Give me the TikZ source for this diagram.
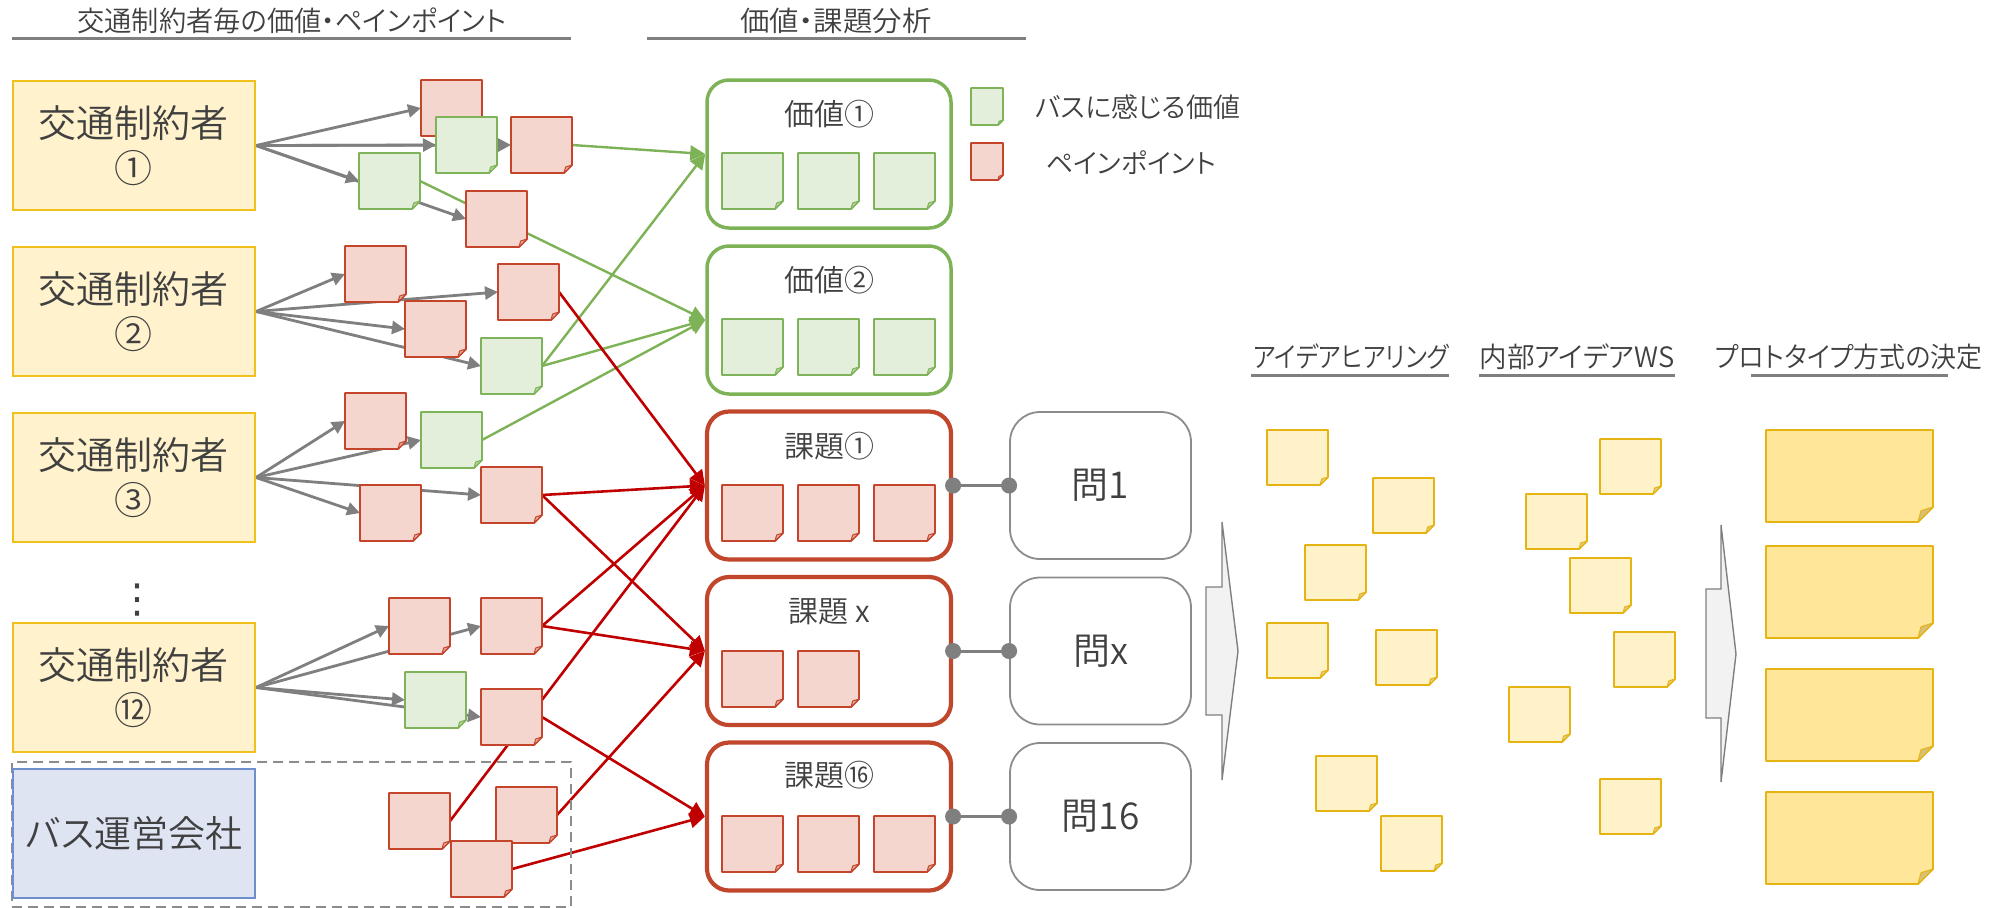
\documentclass[tikz,border=0pt]{standalone}
\usepackage{fontspec}
\setmainfont{Noto Sans CJK JP DemiLight}[RawFeature=+palt]
\newfontfamily\dvs{DejaVu Sans}
\usetikzlibrary{arrows.meta}
\pgfdeclarelayer{bg}
\pgfsetlayers{bg,main}
\definecolor{txt}{HTML}{404040}
\definecolor{rnoteF}{HTML}{F5D6CF}
\definecolor{rnoteD}{HTML}{C4452B}
\definecolor{rnoteK}{HTML}{E3A99B}
\definecolor{gnoteF}{HTML}{E3EFDA}
\definecolor{gnoteD}{HTML}{7EB35A}
\definecolor{gnoteK}{HTML}{B5D49C}
\definecolor{ynoteF}{HTML}{FFF2C8}
\definecolor{ynoteD}{HTML}{E6B412}
\definecolor{ynoteK}{HTML}{E2CD87}
\definecolor{bnoteF}{HTML}{FFE699}
\definecolor{bnoteD}{HTML}{E6B412}
\definecolor{bnoteK}{HTML}{D6C07A}
\definecolor{boxY}{HTML}{FFF2CC}
\definecolor{boxYD}{HTML}{EFC11A}
\definecolor{busF}{HTML}{DEE4F2}
\definecolor{busD}{HTML}{6F8FCC}
\definecolor{vgreen}{HTML}{7DB356}
\definecolor{kred}{HTML}{C0462C}
\definecolor{lred}{HTML}{C00000}
\definecolor{lgray}{HTML}{7F7F7F}
\definecolor{qgray}{HTML}{8C8C8C}
\definecolor{arF}{HTML}{F2F2F2}
% name, colour prefix, x, y (top-left, px), width, height, fold
\newcommand\stick[7]{%
  \node[inner sep=0pt, outer sep=0pt, minimum width=#5, minimum height=#6, anchor=north west] (#1) at (#3,#4) {};
  \filldraw[draw=#2D, fill=#2F, line width=0.9pt, line join=round] (#1.north west) -- (#1.north east) -- ([yshift=#7]#1.south east) -- ([xshift=-#7]#1.south east) -- (#1.south west) -- cycle;
  \filldraw[draw=#2D, fill=#2K, line width=0.5pt, line join=round] ([yshift=#7]#1.south east) -- ([xshift=-#7]#1.south east) -- ([xshift=-0.8*#7, yshift=0.75*#7]#1.south east) -- cycle;
}
\newcommand\fitw[2]{\resizebox{#1}{\height}{#2}}
\tikzset{
  ubox/.style={draw=boxYD, fill=boxY, line width=1pt, minimum width=121pt, minimum height=64.5pt, inner sep=0pt, text=txt, align=center, font=\fontsize{19}{22.5}\selectfont, anchor=north west},
  vbox/.style={draw=vgreen, fill=white, line width=1.75pt, rounded corners=11pt, minimum width=122pt, minimum height=74pt, inner sep=0pt},
  kbox/.style={vbox, draw=kred, line width=2.1pt},
  qbox/.style={draw=qgray, fill=white, line width=0.9pt, rounded corners=15pt, minimum width=90.5pt, minimum height=73.5pt, inner sep=0pt, text=txt, font=\fontsize{18.5}{20}\selectfont},
  ttl/.style={text=txt, inner sep=0pt, font=\fontsize{15}{16}\selectfont},
  hdr/.style={text=txt, inner sep=0pt, font=\fontsize{14}{16}\selectfont},
  legtxt/.style={text=txt, inner sep=0pt, font=\fontsize{13.5}{15}\selectfont},
  uline/.style={draw=lgray, line width=1.5pt},
  garrow/.style={draw=lgray, line width=1.4pt, -{Triangle[length=6.5pt,width=6.5pt]}},
  rline/.style={draw=lred, line width=1.3pt, -{Triangle[length=7.5pt,width=7.5pt]}},
  gline/.style={draw=vgreen, line width=1.2pt, -{Triangle[length=7.5pt,width=7.5pt]}},
  dotc/.style={draw=lgray, line width=1.5pt, {Circle[length=8pt]}-{Circle[length=8pt]}, shorten <=-4pt, shorten >=-4pt},
  bigarrow/.style={draw=lgray, fill=arF, line width=0.7pt, line join=miter},
}
\begin{document}
\begin{tikzpicture}[x=0.5pt, y=-0.5pt]
\useasboundingbox (0,0) rectangle (1997,907);

% headers
\node[hdr] (h1) at (292,21) {\fitw{214.5pt}{交通制約者毎の価値・ペインポイント}};
\draw[uline] (12,38) -- (571,38);
\node[hdr] (h2) at (836,21) {\fitw{95.5pt}{価値・課題分析}};
\draw[uline] (647,38) -- (1026,38);
\node[hdr] (h3) at (1351,357) {\fitw{98pt}{アイデアヒアリング}};
\draw[uline] (1251,375) -- (1449,375);
\node[hdr] (h4) at (1577,357) {\fitw{97.5pt}{内部アイデアWS}};
\draw[uline] (1479,375) -- (1675,375);
\node[hdr] (h5) at (1849,357) {\fitw{133.5pt}{プロトタイプ方式の決定}};
\draw[uline] (1751,375) -- (1948,375);

% stakeholders
\node[ubox] (b1) at (12,80) {交通制約者\\①};
\node[ubox] (b2) at (12,246) {交通制約者\\②};
\node[ubox] (b3) at (12,412) {交通制約者\\③};
\node[text=txt, inner sep=0pt, font=\dvs\fontsize{20}{20}\selectfont] (dots) at (137,600) {⋮};
\node[ubox] (b12) at (12,622) {交通制約者\\⑫};
\node[draw=qgray, line width=1pt, dash pattern=on 5pt off 3pt, minimum width=279.5pt, minimum height=72.5pt, inner sep=0pt, anchor=north west] (grp) at (11,761) {};
\node[ubox, draw=busD, fill=busF, font=\fontsize{18.5}{22.5}\selectfont] (bus) at (12,768) {バス運営会社};

% notes per stakeholder
\stick{A}{rnote}{421}{80}{30.5pt}{28pt}{4pt}
\stick{B}{gnote}{436}{117}{30.5pt}{28pt}{4pt}
\stick{C}{rnote}{511}{117}{30.5pt}{28pt}{4pt}
\stick{D}{gnote}{359}{153}{30.5pt}{28pt}{4pt}
\stick{E}{rnote}{466}{191}{30.5pt}{28pt}{4pt}
\stick{F}{rnote}{345}{246}{30.5pt}{28pt}{4pt}
\stick{G}{rnote}{498}{264}{30.5pt}{28pt}{4pt}
\stick{H}{rnote}{405}{301}{30.5pt}{28pt}{4pt}
\stick{I}{gnote}{481}{338}{30.5pt}{28pt}{4pt}
\stick{J}{rnote}{345}{393}{30.5pt}{28pt}{4pt}
\stick{K}{gnote}{421}{412}{30.5pt}{28pt}{4pt}
\stick{L}{rnote}{360}{485}{30.5pt}{28pt}{4pt}
\stick{M}{rnote}{481}{467}{30.5pt}{28pt}{4pt}
\stick{N}{rnote}{389}{598}{30.5pt}{28pt}{4pt}
\stick{O}{rnote}{481}{598}{30.5pt}{28pt}{4pt}
\stick{P}{gnote}{405}{672}{30.5pt}{28pt}{4pt}
\stick{Q}{rnote}{481}{689}{30.5pt}{28pt}{4pt}
\stick{R}{rnote}{389}{793}{30.5pt}{28pt}{4pt}
\stick{S}{rnote}{496}{787}{30.5pt}{28pt}{4pt}
\stick{T}{rnote}{451}{841}{30.5pt}{28pt}{4pt}

% value / issue boxes
\node[vbox] (v1) at (829,154) {};
\node[ttl] (v1t) at (829,114) {価値①};
\stick{v1a}{gnote}{722}{153}{30.5pt}{28pt}{4pt}
\stick{v1b}{gnote}{798}{153}{30.5pt}{28pt}{4pt}
\stick{v1c}{gnote}{874}{153}{30.5pt}{28pt}{4pt}
\node[vbox] (v2) at (829,320) {};
\node[ttl] (v2t) at (829,280) {価値②};
\stick{v2a}{gnote}{722}{319}{30.5pt}{28pt}{4pt}
\stick{v2b}{gnote}{798}{319}{30.5pt}{28pt}{4pt}
\stick{v2c}{gnote}{874}{319}{30.5pt}{28pt}{4pt}
\node[kbox] (k1) at (829,485.5) {};
\node[ttl] (k1t) at (829,446) {課題①};
\stick{k1a}{rnote}{722}{485}{30.5pt}{28pt}{4pt}
\stick{k1b}{rnote}{798}{485}{30.5pt}{28pt}{4pt}
\stick{k1c}{rnote}{874}{485}{30.5pt}{28pt}{4pt}
\node[kbox] (kx) at (829,651) {};
\node[ttl] (kxt) at (829,612) {課題 x};
\stick{kxa}{rnote}{722}{651}{30.5pt}{28pt}{4pt}
\stick{kxb}{rnote}{798}{651}{30.5pt}{28pt}{4pt}
\node[kbox] (k16) at (829,816.5) {};
\node[ttl] (k16t) at (829,775) {課題⑯};
\stick{k16a}{rnote}{722}{816}{30.5pt}{28pt}{4pt}
\stick{k16b}{rnote}{798}{816}{30.5pt}{28pt}{4pt}
\stick{k16c}{rnote}{874}{816}{30.5pt}{28pt}{4pt}

% legend
\stick{lg}{gnote}{971}{88}{16pt}{18.5pt}{2.5pt}
\node[legtxt] (lgt) at (1138,107) {バスに感じる価値};
\stick{lr}{rnote}{971}{143}{16pt}{18.5pt}{2.5pt}
\node[legtxt] (lrt) at (1131,163) {ペインポイント};

% questions
\node[qbox] (q1) at (1100.5,485.5) {問1};
\node[qbox] (qx) at (1100.5,651) {問x};
\node[qbox] (q16) at (1100.5,816.5) {問16};
\draw[dotc] (k1.east) -- (q1.west);
\draw[dotc] (kx.east) -- (qx.west);
\draw[dotc] (k16.east) -- (q16.west);

% big arrows
\draw[bigarrow] (1222,522) -- (1238,651) -- (1222,780) -- (1222,715) -- (1206,715) -- (1206,587) -- (1222,587) -- cycle;
\draw[bigarrow] (1721,525) -- (1736,654) -- (1721,782) -- (1721,718) -- (1706,718) -- (1706,589) -- (1721,589) -- cycle;

% idea hearing notes
\stick{y1}{ynote}{1267}{430}{30.5pt}{27.5pt}{4pt}
\stick{y2}{ynote}{1373}{478}{30.5pt}{27.5pt}{4pt}
\stick{y3}{ynote}{1305}{545}{30.5pt}{27.5pt}{4pt}
\stick{y4}{ynote}{1267}{623}{30.5pt}{27.5pt}{4pt}
\stick{y5}{ynote}{1376}{630}{30.5pt}{27.5pt}{4pt}
\stick{y6}{ynote}{1316}{756}{30.5pt}{27.5pt}{4pt}
\stick{y7}{ynote}{1381}{816}{30.5pt}{27.5pt}{4pt}
% internal WS notes
\stick{w1}{ynote}{1600}{439}{30.5pt}{27.5pt}{4pt}
\stick{w2}{ynote}{1526}{494}{30.5pt}{27.5pt}{4pt}
\stick{w3}{ynote}{1570}{558}{30.5pt}{27.5pt}{4pt}
\stick{w4}{ynote}{1614}{632}{30.5pt}{27.5pt}{4pt}
\stick{w5}{ynote}{1509}{687}{30.5pt}{27.5pt}{4pt}
\stick{w6}{ynote}{1600}{779}{30.5pt}{27.5pt}{4pt}
% prototype notes
\stick{p1}{bnote}{1766}{430}{83.5pt}{46pt}{7.5pt}
\stick{p2}{bnote}{1766}{546}{83.5pt}{46pt}{7.5pt}
\stick{p3}{bnote}{1766}{669}{83.5pt}{46pt}{7.5pt}
\stick{p4}{bnote}{1766}{792}{83.5pt}{46pt}{7.5pt}

% connectors behind notes
\begin{pgfonlayer}{bg}
\foreach \t in {A,B,C,D,E} \draw[garrow] (b1.east) -- (\t.west);
\foreach \t in {F,G,H,I} \draw[garrow] (b2.east) -- (\t.west);
\foreach \t in {J,K,L,M} \draw[garrow] (b3.east) -- (\t.west);
\foreach \t in {N,O,P,Q} \draw[garrow] (b12.east) -- (\t.west);
\draw[gline] (C.east) -- (v1.west);
\draw[gline] (I.east) -- (v1.west);
\draw[gline] (D.east) -- (v2.west);
\draw[gline] (I.east) -- (v2.west);
\draw[gline] (K.east) -- (v2.west);
\foreach \s in {G,M,O,R} \draw[rline] (\s.east) -- (k1.west);
\foreach \s in {M,O,S} \draw[rline] (\s.east) -- (kx.west);
\foreach \s in {Q,T} \draw[rline] (\s.east) -- (k16.west);
\end{pgfonlayer}
\end{tikzpicture}
\end{document}
